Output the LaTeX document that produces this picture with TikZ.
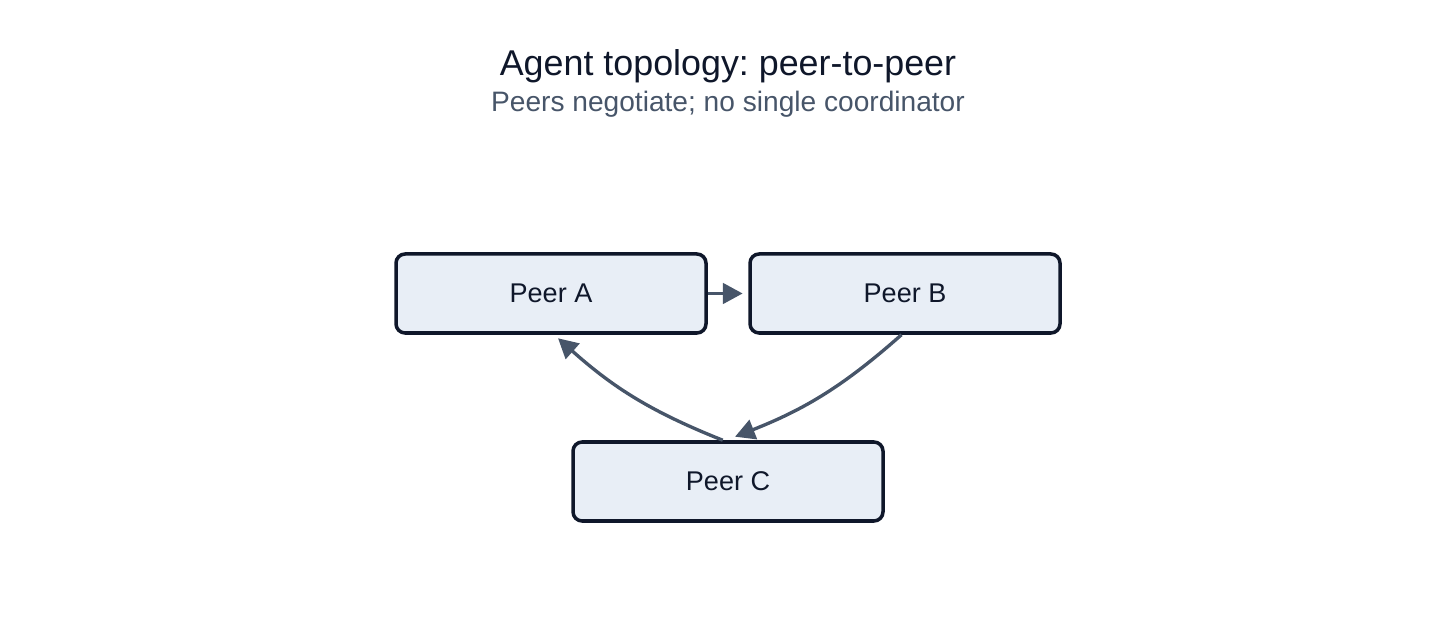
\documentclass[tikz,border=0pt]{standalone}
\usepackage{fontspec}
\setmainfont{Liberation Sans}
\usetikzlibrary{arrows.meta, positioning}
\frenchspacing
\definecolor{inkdark}{HTML}{0F172A}
\definecolor{inkslate}{HTML}{475569}
\definecolor{peerfill}{HTML}{E8EEF6}
\tikzset{
  peer/.style  = {draw=inkdark, line width=1pt, rounded corners=2.6pt, fill=peerfill,
                  minimum width=3.1cm, minimum height=0.79cm, font=\fontsize{7.7}{9}\selectfont,
                  text=inkdark, inner sep=0pt},
  link/.style  = {-{Triangle[length=5.6pt, width=5.8pt]}, line width=0.95pt, color=inkslate},
}

\begin{document}
\begin{tikzpicture}
  \useasboundingbox (0,0) rectangle (14.56,-6.42);
  % heading
  \node[anchor=base, text=inkdark, font=\fontsize{10.2}{12}\selectfont] (title) at (7.28,-0.755)
    {Agent topology: peer-to-peer};
  \node[anchor=base, text=inkslate, font=\fontsize{8}{10}\selectfont] (subtitle) at (7.28,-1.12)
    {Peers negotiate; no single coordinator};
  % peers
  \foreach \n/\x/\y in {A/5.51/-2.935, B/9.05/-2.935, C/7.28/-4.815} {
    \node[peer] (p\n) at (\x,\y) {Peer \n};
  }
  % links
  \draw[link, shorten >=1.6pt] (pA.east) -- (pB.west);
  \draw[link] ([xshift=-1pt]pB.south) to[bend left=10] ([xshift=2pt, yshift=1pt]pC.north);
  \draw[link] ([xshift=-1.5pt]pC.north) to[bend left=10] ([xshift=2pt, yshift=-1pt]pA.south);
\end{tikzpicture}
\end{document}
